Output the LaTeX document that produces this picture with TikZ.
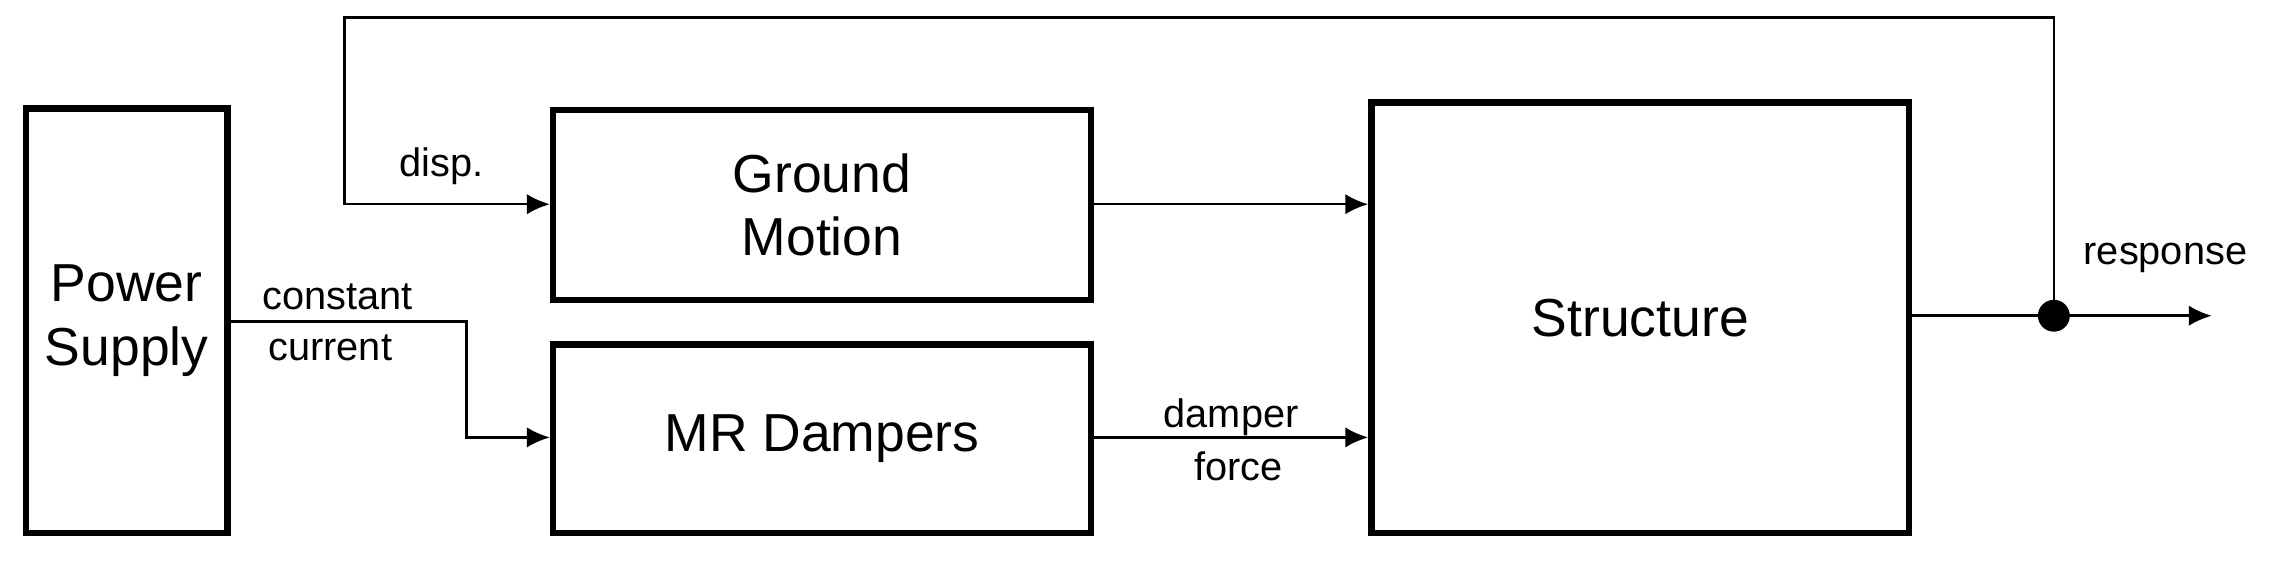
\documentclass[tikz,border=0pt]{standalone}
\usepackage{fontspec}
\setmainfont{Liberation Sans}
\usetikzlibrary{arrows.meta}
\begin{document}
\begin{tikzpicture}[x=0.01cm,y=-0.01cm,
  blk/.style={draw,line width=1.3pt,inner sep=0,font=\fontsize{10.5}{12.5}\selectfont,align=center},
  ln/.style={line width=0.5pt},
  ar/.style={ln,-{Latex[length=4.5pt,width=4pt]}},
  lbl/.style={font=\fontsize{7.8}{9}\selectfont,inner sep=0}]
\useasboundingbox (0,0) rectangle (1570,392);
\node[blk,minimum width=1.39cm,minimum height=2.93cm] (ps) at (87.5,221.5) {Power\\Supply};
\node[blk,minimum width=3.71cm,minimum height=1.31cm] (gm) at (567.5,141.5) {Ground\\Motion};
\node[blk,minimum width=3.71cm,minimum height=1.30cm] (mr) at (567.5,303) {MR Dampers};
\node[blk,minimum width=3.71cm,minimum height=2.97cm] (st) at (1132.5,219.5) {Structure};
\coordinate (dot) at (1418,218);
\coordinate (out) at (1527,218);
\fill (dot) circle (11);
\draw[ln] (st.east|-dot) -- (dot);
\draw[ar] (dot) -- (out);
\draw[ar] (dot) -- (1418,12) -- (238,12) -- (238,141) -- (gm.west|-0,141);
\draw[ar] (gm.east|-0,141) -- (st.west|-0,141);
\draw[ar] (ps.east|-0,222) -- (322,222) -- (322,302) -- (mr.west|-0,302);
\draw[ar] (mr.east|-0,302) -- (st.west|-0,302);
\node[lbl] (l1) at (305,115) {disp.};
\node[lbl] (l2) at (233,205) {constant};
\node[lbl] (l3) at (228,240) {current};
\node[lbl] (l4) at (850,288) {damper};
\node[lbl] (l5) at (855,322) {force};
\node[lbl] (l6) at (1495,178) {response};
\end{tikzpicture}
\end{document}
